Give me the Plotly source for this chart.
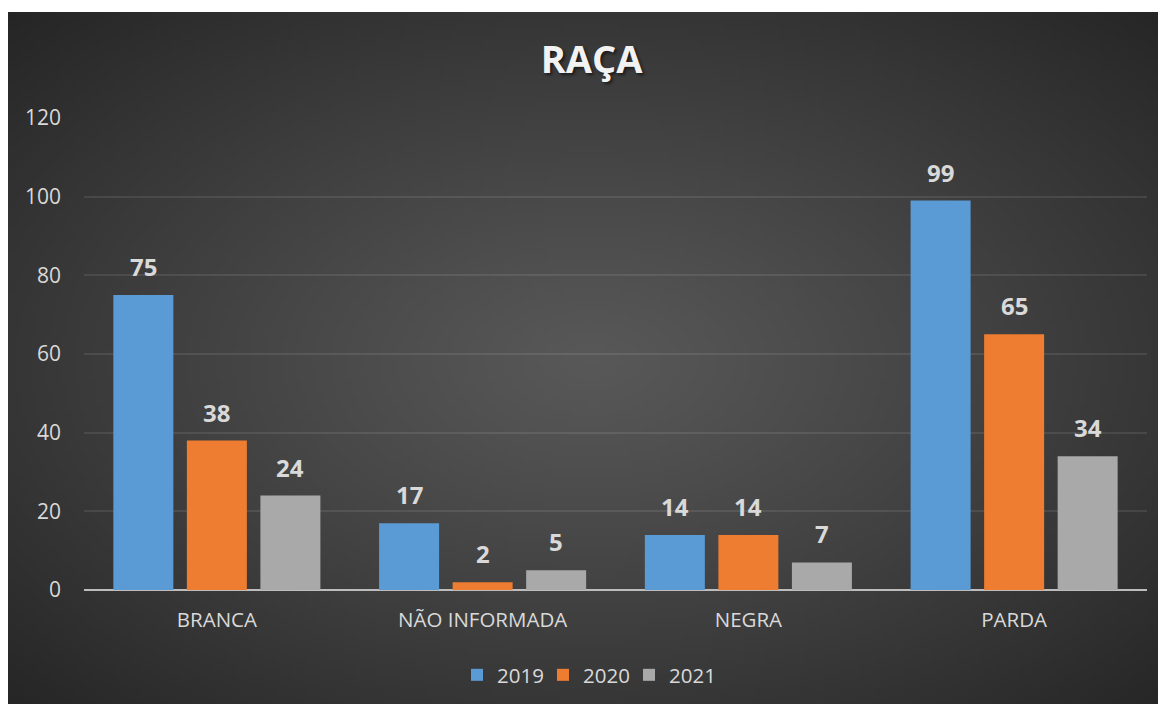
import base64
import math
import struct
import zlib

import plotly.graph_objects as go

# ---------------- data ----------------
categories = ["BRANCA", "NÃO INFORMADA", "NEGRA", "PARDA"]
series_names = ["2019", "2020", "2021"]
values_2019 = [75, 17, 14, 99]
values_2020 = [38, 2, 14, 65]
values_2021 = [24, 5, 7, 34]
y_ticks = [0, 20, 40, 60, 80, 100, 120]
title_text = "RAÇA"

series_values = [values_2019, values_2020, values_2021]
colors = ["#5b9bd5", "#ef7d31", "#a9a9a9"]

FONT = "Open Sans"
TEXT_COL = "#d9d9d9"


# ---------------- background gradient (radial, built as a small PNG) ----------------
def make_png(w, h, fn):
    raw = bytearray()
    for yy in range(h):
        raw.append(0)
        for xx in range(w):
            raw.extend(fn(xx, yy))

    def chunk(tag, data):
        c = struct.pack(">I", len(data)) + tag + data
        return c + struct.pack(">I", zlib.crc32(tag + data) & 0xFFFFFFFF)

    png = b"\x89PNG\r\n\x1a\n"
    png += chunk(b"IHDR", struct.pack(">IIBBBBB", w, h, 8, 2, 0, 0, 0))
    png += chunk(b"IDAT", zlib.compress(bytes(raw), 9))
    png += chunk(b"IEND", b"")
    return "data:image/png;base64," + base64.b64encode(png).decode()


GW, GH = 232, 138
C_IN, C_OUT = 88, 37


def grad(xx, yy):
    dx = (xx + 0.5) / GW - 0.5
    dy = (yy + 0.5) / GH - 0.5
    d = math.sqrt((dx / 0.5) ** 2 + (dy / 0.5) ** 2) / math.sqrt(2)
    d = min(1.0, d)
    v = int(round(C_IN - (C_IN - C_OUT) * d ** 1.1))
    return (v, v, v)


bg_uri = make_png(GW, GH, grad)

# ---------------- figure ----------------
fig = go.Figure()
for name, vals, col in zip(series_names, series_values, colors):
    fig.add_trace(
        go.Bar(
            name=name,
            x=categories,
            y=vals,
            marker=dict(color=col, line=dict(width=0)),
        )
    )

# data labels via annotations, placed on the library's category scale
bargap = 0.17
slot = (1 - bargap) / 3
annotations = []
for i, vals in enumerate(series_values):
    for j, v in enumerate(vals):
        annotations.append(
            dict(
                x=j + (i - 1) * slot,
                y=v,
                xref="x",
                yref="y",
                text=str(v),
                showarrow=False,
                yanchor="bottom",
                yshift=10,
                font=dict(family=FONT, size=24, color=TEXT_COL, weight="bold"),
            )
        )

# page is offset by the 8px body margin; coordinates below are figure coords
W, H = 1166, 704
ML, MR, MT, MB = 76, 27, 110, 122
pw, ph = W - ML - MR, H - MT - MB
# dark area in figure pixels: x 0..1166, y 4..704
img_x = (0 - ML) / pw
img_w = (W - 0) / pw
img_y = (H - MB - 4) / ph
img_h = (H - 4) / ph

fig.update_layout(
    width=W,
    height=H,
    margin=dict(l=ML, r=MR, t=MT, b=MB, autoexpand=False),
    paper_bgcolor="white",
    plot_bgcolor="rgba(0,0,0,0)",
    barmode="group",
    bargap=bargap,
    bargroupgap=0.184,
    font=dict(family=FONT, color=TEXT_COL, size=20),
    title=dict(
        text=title_text,
        x=583.5 / W,
        xref="container",
        xanchor="center",
        y=1 - 52 / H,
        yref="container",
        yanchor="middle",
        font=dict(
            family=FONT,
            size=38,
            color="#f2f2f2",
            weight="bold",
            shadow="2px 2px 3px rgba(0,0,0,0.55)",
        ),
    ),
    images=[
        dict(
            source=bg_uri,
            xref="paper",
            yref="paper",
            x=img_x,
            y=img_y,
            sizex=img_w,
            sizey=img_h,
            xanchor="left",
            yanchor="top",
            sizing="stretch",
            layer="below",
        )
    ],
    xaxis=dict(
        showgrid=False,
        showline=False,
        ticks="",
        tickfont=dict(family=FONT, size=20.5, color=TEXT_COL),
        ticklabelstandoff=15,
    ),
    yaxis=dict(
        range=[0, 120],
        tickvals=y_ticks,
        showgrid=True,
        gridcolor="rgba(255,255,255,0.09)",
        gridwidth=2,
        zeroline=True,
        zerolinecolor="#bdbdbd",
        zerolinewidth=2,
        showline=False,
        ticks="",
        tickfont=dict(family=FONT, size=21, color=TEXT_COL),
        ticklabelstandoff=22,
    ),
    legend=dict(
        orientation="h",
        x=(449 - ML) / pw,
        xanchor="left",
        y=(H - MB - 667) / ph,
        yanchor="middle",
        font=dict(family=FONT, size=20.5, color=TEXT_COL),
        bgcolor="rgba(0,0,0,0)",
        entrywidth=41,
        entrywidthmode="pixels",
    ),
    annotations=annotations,
    showlegend=True,
)

fig.write_html("out.html")
